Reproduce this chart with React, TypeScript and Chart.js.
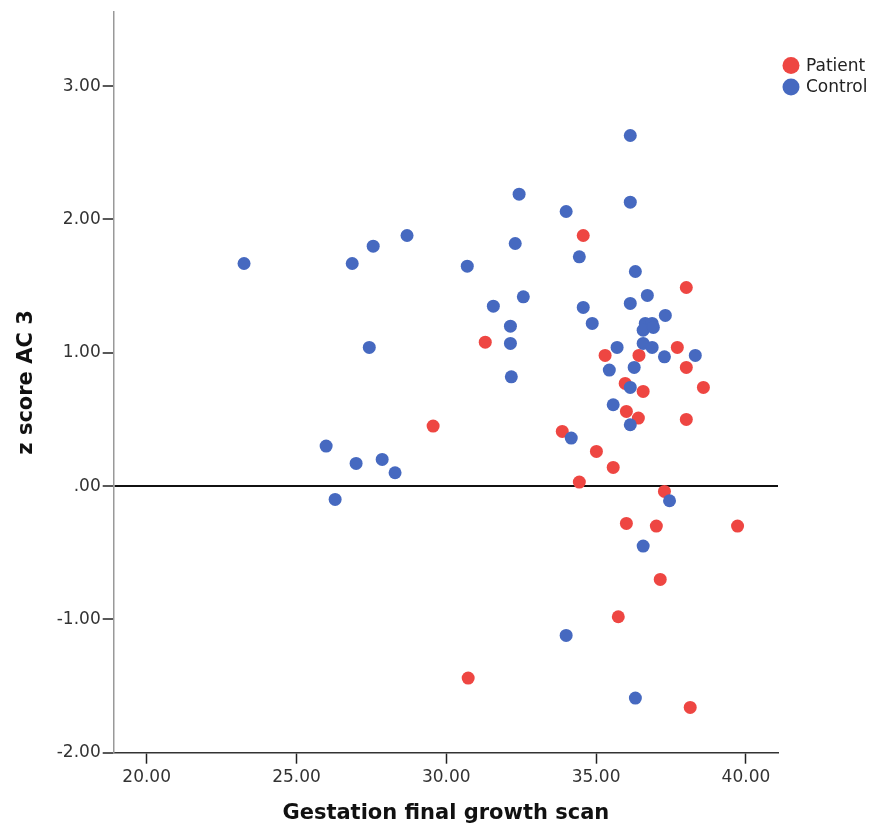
import React, { useEffect, useRef } from "react";
import { Chart, registerables } from "chart.js";

Chart.register(...registerables);

const seriesLabels = ["Patient", "Control"];
const seriesColors = ["rgb(238,70,66)", "rgb(70,105,192)"];

const patientX = [34.57, 38.01, 31.30, 35.30, 36.43, 37.71, 38.01, 38.58, 35.97, 36.57, 36.01, 36.41, 38.01, 29.56, 33.87, 35.01, 35.57, 34.44, 37.28, 36.01, 37.01, 39.72, 37.14, 35.74, 30.73, 38.14];
const patientY = [1.88, 1.49, 1.08, 0.98, 0.98, 1.04, 0.89, 0.74, 0.77, 0.71, 0.56, 0.51, 0.50, 0.45, 0.41, 0.26, 0.14, 0.03, -0.04, -0.28, -0.30, -0.30, -0.70, -0.98, -1.44, -1.66];

const controlX = [23.25, 36.14, 36.14, 32.43, 34.00, 28.69, 27.56, 26.86, 30.70, 32.30, 34.44, 36.31, 32.57, 31.57, 34.57, 36.14, 36.71, 32.14, 34.87, 37.31, 32.14, 27.43, 36.64, 36.87, 36.57, 36.91, 36.57, 36.87, 35.70, 37.28, 38.31, 36.27, 35.44, 36.14, 32.17, 35.57, 36.14, 34.17, 25.99, 26.99, 27.86, 28.29, 26.29, 37.45, 36.57, 34.00, 36.31];
const controlY = [1.67, 2.63, 2.13, 2.19, 2.06, 1.88, 1.80, 1.67, 1.65, 1.82, 1.72, 1.61, 1.42, 1.35, 1.34, 1.37, 1.43, 1.20, 1.22, 1.28, 1.07, 1.04, 1.22, 1.22, 1.17, 1.19, 1.07, 1.04, 1.04, 0.97, 0.98, 0.89, 0.87, 0.74, 0.82, 0.61, 0.46, 0.36, 0.30, 0.17, 0.20, 0.10, -0.10, -0.11, -0.45, -1.12, -1.59];

const xTitle = "Gestation final growth scan";
const yTitle = "z score AC 3";
const xMin = 18.9, xMax = 41.07, xStep = 5;
const yMin = -2, yMax = 3.555, yStep = 1;

const FONT = '"DejaVu Sans", sans-serif';

const fmt = (v: number) => (v === 0 ? ".00" : v.toFixed(2));

const legendPlugin = {
  id: "customLegend",
  afterDraw(chart: any) {
    const ctx = chart.ctx;
    ctx.save();
    const x0 = 791;
    const y0 = 65.5;
    const gap = 21.5;
    chart.data.datasets.forEach((ds: any, i: number) => {
      const cy = y0 + i * gap;
      ctx.beginPath();
      ctx.fillStyle = ds.backgroundColor;
      ctx.arc(x0, cy, 8.5, 0, Math.PI * 2);
      ctx.fill();
      ctx.fillStyle = "#222";
      ctx.font = `17px ${FONT}`;
      ctx.textBaseline = "middle";
      ctx.textAlign = "left";
      ctx.fillText(ds.label, 806, cy + 1);
    });
    ctx.restore();
  },
};

export default function App() {
  const ref = useRef<HTMLCanvasElement | null>(null);
  useEffect(() => {
    if (!ref.current) return;
    const toPts = (xs: number[], ys: number[]) => xs.map((x, i) => ({ x, y: ys[i] }));
    const chart = new Chart(ref.current, {
      type: "scatter",
      data: {
        datasets: [
          {
            label: seriesLabels[0],
            data: toPts(patientX, patientY),
            backgroundColor: seriesColors[0],
            borderColor: seriesColors[0],
            borderWidth: 0,
            pointRadius: 6.5,
            order: 2,
          },
          {
            label: seriesLabels[1],
            data: toPts(controlX, controlY),
            backgroundColor: seriesColors[1],
            borderColor: seriesColors[1],
            borderWidth: 0,
            pointRadius: 6.5,
            order: 1,
          },
        ],
      },
      options: {
        responsive: false,
        animation: false,
        devicePixelRatio: 1,
        layout: { padding: { top: 12, right: 97, left: 0, bottom: 0 } },
        plugins: { legend: { display: false }, tooltip: { enabled: false } },
        scales: {
          x: {
            type: "linear",
            min: xMin,
            max: xMax,
            afterFit: (s: any) => { s.height = 80.3; },
            ticks: {
              stepSize: xStep,
              includeBounds: false,
              callback: (v: any) => fmt(Number(v)),
              font: { family: FONT, size: 17 },
              color: "#333",
              padding: 4,
              maxRotation: 0,
            },
            grid: {
              drawOnChartArea: false,
              drawTicks: true,
              tickLength: 11,
              tickColor: "#222",
              tickWidth: 1.5,
            },
            border: { display: true, color: "#333", width: 1.5 },
            title: {
              display: true,
              text: xTitle,
              font: { family: FONT, size: 21, weight: "bold" },
              color: "#111",
              padding: { top: 0, bottom: 7 },
            },
          },
          y: {
            type: "linear",
            min: yMin,
            max: yMax,
            afterFit: (s: any) => { s.width = 113.7; },
            ticks: {
              stepSize: yStep,
              includeBounds: false,
              callback: (v: any) => fmt(Number(v)),
              font: { family: FONT, size: 17 },
              color: "#333",
              padding: 2,
            },
            grid: {
              drawOnChartArea: true,
              drawTicks: true,
              tickLength: 11,
              tickColor: "#222",
              tickWidth: 1.5,
              color: (c: any) => (c.tick && c.tick.value === 0 ? "#111" : "rgba(0,0,0,0)"),
              lineWidth: (c: any) => (c.tick && c.tick.value === 0 ? 2 : 0),
            },
            border: { display: true, color: "#999", width: 1.5 },
            title: {
              display: true,
              text: yTitle,
              font: { family: FONT, size: 21, weight: "bold" },
              color: "#111",
              padding: { top: 14, bottom: 0 },
            },
          },
        },
      },
      plugins: [legendPlugin],
    } as any);
    return () => chart.destroy();
  }, []);
  return (
    <div style={{ position: "absolute", left: 0, top: 0, width: 875, height: 833, background: "#fff" }}>
      <canvas ref={ref} width={875} height={833} style={{ width: 875, height: 833, display: "block" }} />
    </div>
  );
}
